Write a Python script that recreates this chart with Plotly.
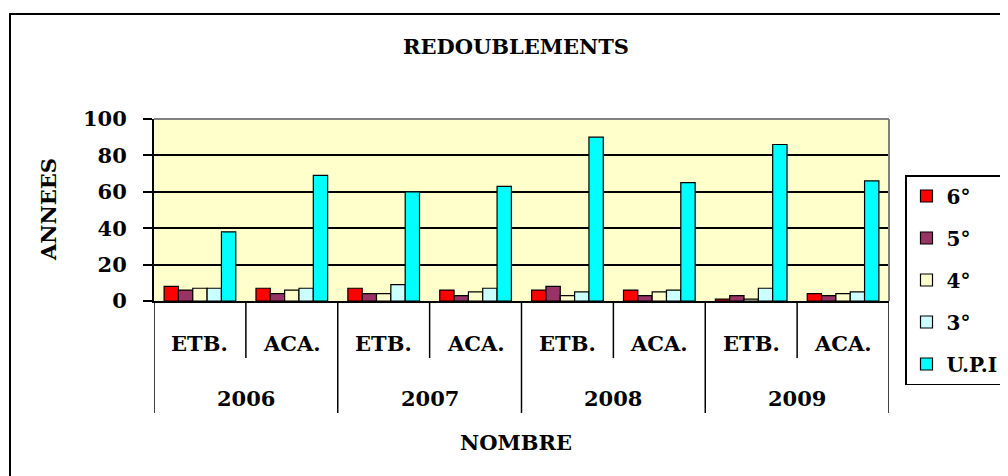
import plotly.graph_objects as go

years = ["2006", "2007", "2008", "2009"]
subcats = ["ETB.", "ACA."]
series_names = ["6°", "5°", "4°", "3°", "U.P.I"]
series_colors = ["#FF0000", "#993366", "#FFFFCC", "#CCFFFF", "#00FFFF"]

v_6 = [8, 7, 7, 6, 6, 6, 1, 4]
v_5 = [6, 4, 4, 3, 8, 3, 3, 3]
v_4 = [7, 6, 4, 5, 3, 5, 1, 4]
v_3 = [7, 7, 9, 7, 5, 6, 7, 5]
v_upi = [38, 69, 60, 63, 90, 65, 86, 66]
series_values = [v_6, v_5, v_4, v_3, v_upi]

y_ticks = [0, 20, 40, 60, 80, 100]

FONT = "DejaVu Serif"
FS = 21

# page has an 8px body margin: work in window pixels, convert to figure pixels
OFF = 8
W, H = 1008 - OFF, 476 - OFF
L, R, T, B = 154 - OFF, 889 - OFF, 119 - OFF, 301 - OFF
ph = B - T

def py(pix):
    return (B - (pix - OFF)) / ph

def px(pix):
    return ((pix - OFF) - L) / (R - L)

def bold(s):
    return "<b>" + s + "</b>"

n = len(years) * len(subcats)
xpos = list(range(n))
sub_labels = [s for _ in years for s in subcats]

fig = go.Figure()
for name, col, vals in zip(series_names, series_colors, series_values):
    fig.add_trace(go.Bar(
        x=xpos, y=vals, name=bold(name), legendgroup=name,
        marker=dict(color=col, line=dict(color="black", width=1.2)),
    ))

shapes = []
annotations = []
for i in range(n + 1):
    xb = i - 0.5
    outer = (i % len(subcats) == 0)
    shapes.append(dict(type="line", xref="x", yref="paper", x0=xb, x1=xb,
                       y0=0, y1=py(413) if outer else py(358),
                       line=dict(color="black", width=1.5)))
for i, s in enumerate(sub_labels):
    annotations.append(dict(xref="x", yref="paper", x=i, y=py(343), text=bold(s),
                            showarrow=False, yanchor="middle",
                            font=dict(family=FONT, size=FS, color="black")))
for j, yr in enumerate(years):
    annotations.append(dict(xref="x", yref="paper", x=j * 2 + 0.5, y=py(398), text=bold(yr),
                            showarrow=False, yanchor="middle",
                            font=dict(family=FONT, size=FS, color="black")))
annotations.append(dict(xref="paper", yref="paper", x=px(516), y=py(442), text=bold("NOMBRE"),
                        showarrow=False, yanchor="middle", xanchor="center",
                        font=dict(family=FONT, size=FS, color="black")))
annotations.append(dict(xref="paper", yref="paper", x=px(48), y=py(210), text=bold("ANNEES"),
                        showarrow=False, yanchor="middle", xanchor="center", textangle=-90,
                        font=dict(family=FONT, size=FS, color="black")))

shapes.append(dict(type="line", xref="paper", yref="paper", x0=0, x1=1, y0=1, y1=1,
                   line=dict(color="#808080", width=2)))
shapes.append(dict(type="line", xref="paper", yref="paper", x0=1, x1=1, y0=0, y1=1,
                   line=dict(color="#808080", width=2)))
shapes.append(dict(type="rect", xref="paper", yref="paper",
                   x0=px(10), x1=px(1040), y0=py(520), y1=py(14),
                   line=dict(color="black", width=2), layer="above"))

fig.update_layout(
    width=W, height=H,
    margin=dict(l=L, r=W - R, t=T, b=H - B, pad=0, autoexpand=False),
    paper_bgcolor="white",
    plot_bgcolor="#FFFFCC",
    barmode="group", bargap=0.22, bargroupgap=0,
    font=dict(family=FONT, size=FS, color="black"),
    title=dict(text=bold("REDOUBLEMENTS"), x=(516 - OFF) / W, xanchor="center",
               y=1 - (47 - OFF) / H, yanchor="middle",
               font=dict(family=FONT, size=21, color="black")),
    xaxis=dict(range=[-0.5, n - 0.5], showticklabels=False, ticks="",
               showgrid=False, zeroline=False, showline=True,
               linecolor="black", linewidth=2),
    yaxis=dict(range=[0, 100], tickvals=y_ticks, ticktext=[bold(str(t)) for t in y_ticks],
               ticks="outside", ticklen=9,
               tickwidth=1.5, tickcolor="black", showgrid=True, gridcolor="black",
               gridwidth=1.5, zeroline=False, showline=True, linecolor="black",
               linewidth=2, ticklabelstandoff=12,
               tickfont=dict(family=FONT, size=FS, color="black")),
    legend=dict(x=px(905), xanchor="left", y=py(175), yanchor="top",
                bordercolor="black", borderwidth=1.5, bgcolor="white",
                traceorder="grouped", tracegroupgap=13, maxheight=400,
                font=dict(family=FONT, size=20, color="black")),
    shapes=shapes, annotations=annotations,
)

fig.write_html("out.html")
